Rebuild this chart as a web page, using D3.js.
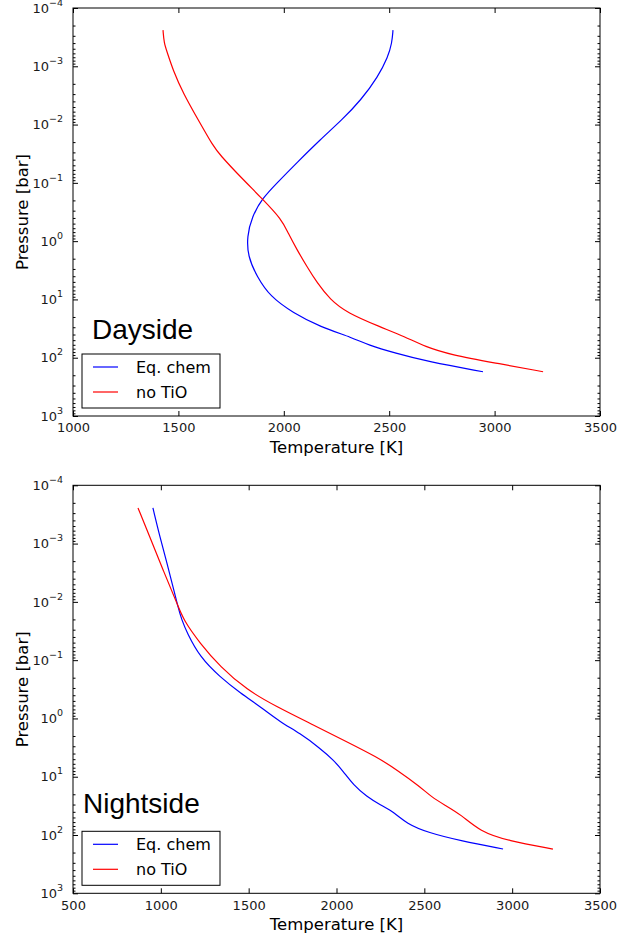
<!DOCTYPE html>
<html>
<head>
<meta charset="utf-8">
<script src="https://cdn.jsdelivr.net/npm/d3@7"></script>
<style>
  html, body { margin: 0; padding: 0; background: #fff; }
  svg { display: block; }
</style>
</head>
<body>
<svg id="chart" width="638" height="938"></svg>
<script>
// ---- Data ----
// Dayside, Eq. chem
const dayEqT = [2518, 2513, 2494, 2447, 2366, 2276, 2172, 2063, 1968, 1897, 1849, 1825, 1830, 1873, 1935, 2044, 2172, 2328, 2399, 2528, 2684, 2945];
const dayEqP = [2.40e-4, 4.0e-4, 6.92e-4, 1.51e-3, 3.80e-3, 8.32e-3, 0.0182, 0.0447, 0.100, 0.186, 0.380, 0.832, 1.86, 4.07, 8.91, 17.0, 29.5, 45.7, 60.3, 83.2, 117, 174];
// Dayside, no TiO
const dayNoTiOT = [1427, 1432, 1446, 1474, 1522, 1602, 1665, 1697, 1792, 1897, 1991, 2020, 2063, 2110, 2157, 2219, 2300, 2456, 2575, 2670, 2793, 3002, 3230];
const dayNoTiOP = [2.40e-4, 4.0e-4, 5.62e-4, 1.15e-3, 2.88e-3, 9.33e-3, 0.0234, 0.0331, 0.0776, 0.186, 0.427, 0.724, 1.41, 2.75, 5.13, 10.0, 17.0, 29.5, 43.7, 64.6, 89.1, 123, 174];
// Nightside, Eq. chem
const nightEqT = [955, 995, 1035, 1069, 1098, 1119, 1149, 1223, 1337, 1451, 1576, 1678, 1792, 1906, 1982, 2039, 2096, 2172, 2248, 2333, 2397, 2521, 2709, 2948];
const nightEqP = [2.45e-4, 7.76e-4, 2.14e-3, 5.50e-3, 0.0123, 0.0204, 0.0339, 0.0891, 0.195, 0.363, 0.661, 1.14, 1.80, 3.24, 5.13, 8.13, 13.8, 21.9, 30.2, 41.7, 63.1, 91.2, 126, 174];
// Nightside, no TiO
const nightNoTiOT = [870, 938, 1012, 1092, 1128, 1223, 1337, 1489, 1660, 1868, 2058, 2229, 2343, 2475, 2538, 2618, 2709, 2817, 2976, 3232];
const nightNoTiOP = [2.45e-4, 7.76e-4, 2.82e-3, 0.0105, 0.0204, 0.0513, 0.129, 0.324, 0.631, 1.29, 2.51, 4.57, 7.59, 14.8, 21.9, 30.9, 44.7, 87.1, 126, 174];

const seriesNames = ["Eq. chem", "no TiO"];
const seriesColors = ["#0000ff", "#ff0000"];
const panelTitles = ["Dayside", "Nightside"];
const dayXTicks = [1000, 1500, 2000, 2500, 3000, 3500];
const nightXTicks = [500, 1000, 1500, 2000, 2500, 3000, 3500];
const yExponents = [-4, -3, -2, -1, 0, 1, 2, 3];
const xLabel = "Temperature [K]";
const yLabel = "Pressure [bar]";

// ---- Drawing ----
const svg = d3.select("#chart");
const tickFont = "'DejaVu Sans', sans-serif";
const L = 73, R = 600, H = 408;

function zip(T, P) { return T.map((t, i) => ({ t: t, p: P[i] })); }

function drawPanel(top, xDomain, xTicks, series, title, titleX, titleBaseline) {
  const g = svg.append("g");
  const x = d3.scaleLinear().domain(xDomain).range([L, R]);
  const y = d3.scaleLog().domain([1e-4, 1e3]).range([top, top + H]);

  const majors = yExponents.map(e => Math.pow(10, e));
  const minors = [];
  for (let e = -4; e < 3; e++) for (let k = 2; k <= 9; k++) minors.push(k * Math.pow(10, e));

  // curves
  const line = d3.line().x(d => x(d.t)).y(d => y(d.p)).curve(d3.curveBasis);
  series.forEach((s, i) => {
    g.append("path").datum(s).attr("d", line)
      .attr("fill", "none").attr("stroke", seriesColors[i]).attr("stroke-width", 1.2);
  });

  // axes
  const axStyle = sel => {
    sel.select(".domain").remove();
    sel.selectAll(".tick line").attr("stroke", "#000").attr("stroke-width", 1);
    sel.selectAll("text").attr("font-family", tickFont).attr("font-size", 13).attr("fill", "#1a1a1a");
  };
  g.append("g").attr("transform", `translate(0,${top + H})`)
    .call(d3.axisBottom(x).tickValues(xTicks).tickSize(-5).tickPadding(7).tickFormat(d3.format("d")))
    .call(axStyle);
  g.append("g").attr("transform", `translate(0,${top})`)
    .call(d3.axisTop(x).tickValues(xTicks).tickSize(-5).tickFormat(""))
    .call(axStyle);

  const yl = g.append("g").attr("transform", `translate(${L},0)`)
    .call(d3.axisLeft(y).tickValues(majors).tickSize(-5).tickPadding(10).tickFormat(""))
    .call(axStyle);
  yl.selectAll(".tick text").each(function(d) {
    const t = d3.select(this);
    const e = Math.round(Math.log10(d));
    t.append("tspan").text("10");
    t.append("tspan").attr("dy", -7).attr("font-size", 9.5).text(e < 0 ? "\u2212" + (-e) : String(e));
  });
  g.append("g").attr("transform", `translate(${L},0)`)
    .call(d3.axisLeft(y).tickValues(minors).tickSize(-2.5).tickFormat(""))
    .call(axStyle);
  g.append("g").attr("transform", `translate(${R},0)`)
    .call(d3.axisRight(y).tickValues(majors).tickSize(-5).tickFormat(""))
    .call(axStyle);
  g.append("g").attr("transform", `translate(${R},0)`)
    .call(d3.axisRight(y).tickValues(minors).tickSize(-2.5).tickFormat(""))
    .call(axStyle);

  // frame
  g.append("rect").attr("x", L).attr("y", top).attr("width", R - L).attr("height", H)
    .attr("fill", "none").attr("stroke", "#000").attr("stroke-width", 1);

  // axis labels
  g.append("text").attr("x", (L + R) / 2).attr("y", top + H + 37)
    .attr("text-anchor", "middle").attr("font-family", tickFont).attr("font-size", 16.5)
    .attr("fill", "#000").text(xLabel);
  g.append("text").attr("transform", `translate(27.5,${top + H / 2}) rotate(-90)`)
    .attr("text-anchor", "middle").attr("font-family", tickFont).attr("font-size", 16.5)
    .attr("fill", "#000").text(yLabel);

  // panel title
  g.append("text").attr("x", titleX).attr("y", top + titleBaseline)
    .attr("font-family", "'Liberation Sans', Arial, sans-serif").attr("font-size", 28)
    .attr("fill", "#000").text(title);

  // legend
  const lg = g.append("g").attr("transform", `translate(82,${top + 346})`);
  lg.append("rect").attr("width", 138).attr("height", 54)
    .attr("fill", "#fff").attr("stroke", "#000").attr("stroke-width", 1);
  seriesNames.forEach((n, i) => {
    const yy = 13 + i * 25;
    lg.append("line").attr("x1", 11).attr("x2", 36).attr("y1", yy).attr("y2", yy)
      .attr("stroke", seriesColors[i]).attr("stroke-width", 1.2);
    lg.append("text").attr("x", 54).attr("y", yy + 6)
      .attr("font-family", tickFont).attr("font-size", 16).attr("fill", "#000").text(n);
  });
}

drawPanel(8, [1000, 3500], dayXTicks,
  [zip(dayEqT, dayEqP), zip(dayNoTiOT, dayNoTiOP)], panelTitles[0], 92, 331);
drawPanel(485.3, [500, 3500], nightXTicks,
  [zip(nightEqT, nightEqP), zip(nightNoTiOT, nightNoTiOP)], panelTitles[1], 83, 328);
</script>
</body>
</html>
